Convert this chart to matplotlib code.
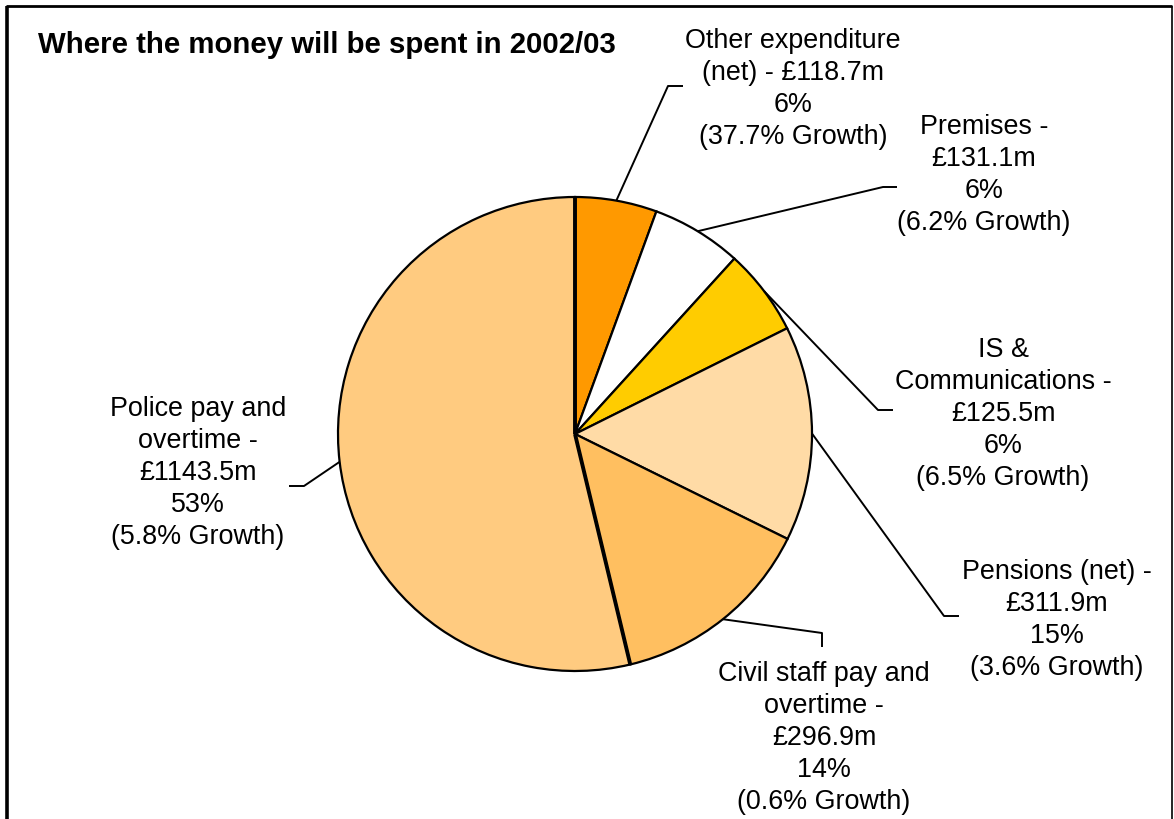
import matplotlib
matplotlib.use("Agg")
import matplotlib.pyplot as plt
import numpy as np

# Spending breakdown for 2002/03 (in £m), in clockwise order from 12 o'clock
categories = ["Other expenditure (net)", "Premises", "IS & Communications",
              "Pensions (net)", "Civil staff pay and overtime", "Police pay and overtime"]
amounts = [118.7, 131.1, 125.5, 311.9, 296.9, 1143.5]
shares = ["6%", "6%", "6%", "15%", "14%", "53%"]
growth = ["37.7%", "6.2%", "6.5%", "3.6%", "0.6%", "5.8%"]
label_heads = ["Other expenditure\n(net) - ", "Premises -\n", "IS &\nCommunications -\n",
               "Pensions (net) -\n", "Civil staff pay and\novertime -\n",
               "Police pay and\novertime -\n"]
colors = ["#FF9900", "#FFFFFF", "#FFCC00", "#FFDBA6", "#FFBF60", "#FFCB80"]

W, H = 1174, 820
plt.rcParams["font.family"] = ["Liberation Sans", "DejaVu Sans"]

fig = plt.figure(figsize=(W / 100, H / 100), dpi=100)
ax = fig.add_axes([0, 0, 1, 1])


def Y(y):
    return H - y


cx, cy, r = 575, 435, 237
wedges, _ = ax.pie(amounts, colors=colors, startangle=90, counterclock=False,
                   center=(cx, Y(cy)), radius=r, frame=True,
                   wedgeprops=dict(edgecolor="black", linewidth=1.6))
ax.set_xlim(0, W)
ax.set_ylim(0, H)
ax.set_aspect("equal")
ax.axis("off")

# heavier radial edges on either side of the largest slice
for ang in (wedges[-1].theta1, wedges[-1].theta2):
    t = np.deg2rad(ang)
    ax.plot([cx, cx + r * np.cos(t)], [Y(cy), Y(cy) + r * np.sin(t)],
            color="black", lw=2.8, solid_capstyle="butt")

# label block centres and leader-line bends (elbow, end) in pixel space
label_pos = [(793, 89), (984, 175), (1003, 414), (1057, 620), (824, 738), (198, 473)]
elbows = [((668, 87), (683, 87)),
          ((883, 188), (897, 188)),
          ((878, 411), (893, 411)),
          ((944, 617), (959, 617)),
          ((822, 634), (822, 648)),
          ((304, 487), (289, 487))]

for w, head, amt, sh, gr, (lx, ly), (el, en) in zip(
        wedges, label_heads, amounts, shares, growth, label_pos, elbows):
    mid = np.deg2rad((w.theta1 + w.theta2) / 2)
    sx = cx + r * np.cos(mid)
    sy = cy - r * np.sin(mid)
    ax.plot([sx, el[0], en[0]], [Y(sy), Y(el[1]), Y(en[1])],
            color="black", lw=1.4, solid_capstyle="butt")
    txt = f"{head}£{amt}m\n{sh}\n({gr} Growth)"
    ax.text(lx, Y(ly), txt, ha="center", va="center", fontsize=19.4,
            linespacing=1.3, color="black")

ax.text(38, Y(45), "Where the money will be spent in 2002/03", ha="left",
        va="center", fontsize=21.2, fontweight="bold", color="black")

# outer frame
ax.plot([7, 7], [Y(7), -5], color="black", lw=2.6, solid_capstyle="butt")
ax.plot([6, 1172], [Y(7), Y(7)], color="black", lw=2.0, solid_capstyle="butt")
ax.plot([1172, 1172], [Y(7), -5], color="black", lw=1.2, solid_capstyle="butt")

fig.savefig("out.png", dpi=100, facecolor="white")
